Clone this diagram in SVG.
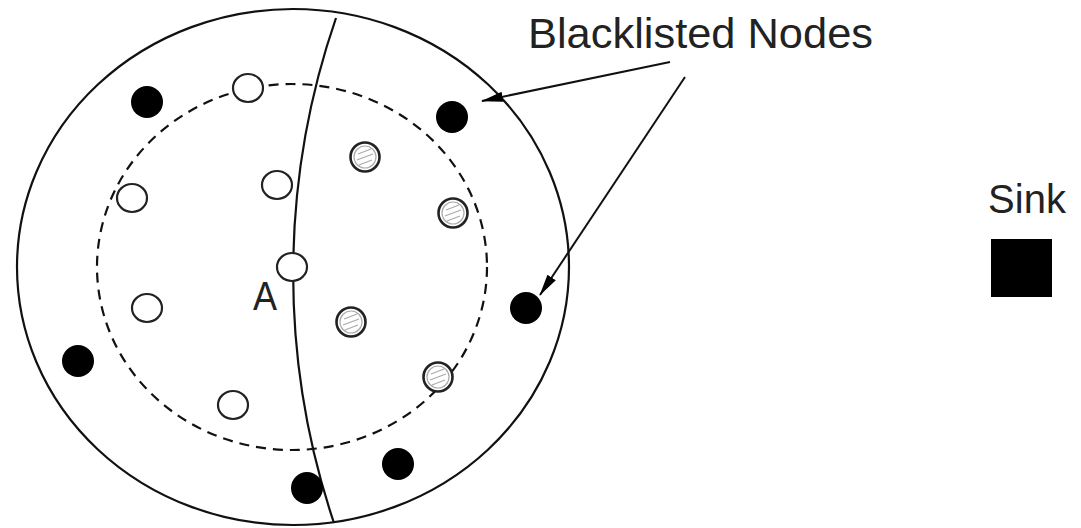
<svg xmlns="http://www.w3.org/2000/svg" width="1081" height="528" viewBox="0 0 1081 528">
<style>
.outline{fill:none;stroke:#111;stroke-width:2.2}
.dash{fill:none;stroke:#111;stroke-width:2.2;stroke-dasharray:10 7}
.black{fill:#000}
.open{fill:#fff;stroke:#222;stroke-width:2.2}
.hatch{fill:#fff;stroke:#222;stroke-width:2.6}
.hin{fill:none;stroke:#aaa;stroke-width:1.2}
.str{stroke:#aaa;stroke-width:1.2}
.conn{fill:none;stroke:#111;stroke-width:2}
.lbl{font-family:"Liberation Sans",Arial,sans-serif;fill:#222}
</style>
<defs>
<marker id="arr" markerWidth="22" markerHeight="10" refX="21" refY="5" orient="auto" markerUnits="userSpaceOnUse">
<path d="M0,0 L22,5 L0,10 Z" fill="#000"/>
</marker>
<g id="hatchSym">
<circle r="14.5" class="hatch"/>
<circle r="11" class="hin"/>
<line x1="-7" y1="-3" x2="6" y2="-8" class="str"/>
<line x1="-8" y1="3" x2="8" y2="-3" class="str"/>
<line x1="-6" y1="8" x2="7" y2="3" class="str"/>
</g>
</defs>
<rect width="1081" height="528" fill="#fff"/>
<g id="field">
<ellipse cx="293" cy="267" rx="276" ry="258" class="outline"/>
<ellipse cx="292" cy="267" rx="195" ry="183" class="dash"/>
<path d="M336 18 A783 783 0 0 0 334 523" class="outline"/>
</g>
<g id="blacklisted">
<circle cx="147" cy="102" r="16" class="black"/>
<circle cx="452" cy="117" r="16" class="black"/>
<circle cx="526" cy="308" r="16" class="black"/>
<circle cx="78" cy="361" r="16" class="black"/>
<circle cx="307" cy="488" r="16" class="black"/>
<circle cx="398" cy="464" r="16" class="black"/>
</g>
<g id="open-nodes">
<ellipse cx="248" cy="88" rx="15" ry="14" class="open"/>
<ellipse cx="132" cy="198" rx="15" ry="14" class="open"/>
<ellipse cx="277" cy="185" rx="15" ry="14" class="open"/>
<ellipse cx="147" cy="308" rx="15" ry="14" class="open"/>
<ellipse cx="233" cy="405" rx="15" ry="14" class="open"/>
</g>
<g id="nodeA">
<ellipse cx="292" cy="267" rx="15" ry="14" class="open"/>
<text x="253" y="310" class="lbl" font-size="40" textLength="24" lengthAdjust="spacingAndGlyphs">A</text>
</g>
<g id="hatched-nodes">
<use href="#hatchSym" x="365" y="157"/>
<use href="#hatchSym" x="453" y="213"/>
<use href="#hatchSym" x="351" y="322"/>
<use href="#hatchSym" x="438" y="377"/>
</g>
<g id="sink">
<text x="1027" y="213" class="lbl" font-size="40" text-anchor="middle">Sink</text>
<rect x="991" y="239" width="61" height="58" fill="#000"/>
</g>
<g id="label">
<text x="528" y="48" class="lbl" font-size="42" textLength="345" lengthAdjust="spacingAndGlyphs">Blacklisted Nodes</text>
</g>
<g id="connectors">
<line x1="670" y1="62" x2="482" y2="101" class="conn" marker-end="url(#arr)"/>
<line x1="685" y1="77" x2="540" y2="295" class="conn" marker-end="url(#arr)"/>
</g>
</svg>
